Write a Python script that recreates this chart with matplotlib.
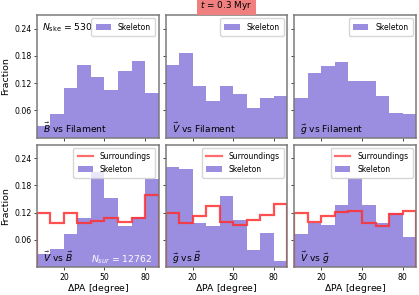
import numpy as np
import matplotlib
matplotlib.use("Agg")
import matplotlib.pyplot as plt

edges = np.arange(0, 100, 10)

# skeleton fractions (top row: field vs filament)
ske_B_fil = [0.025, 0.051, 0.109, 0.160, 0.133, 0.104, 0.147, 0.168, 0.098]
ske_V_fil = [0.159, 0.186, 0.113, 0.081, 0.113, 0.097, 0.066, 0.087, 0.092]
ske_g_fil = [0.087, 0.142, 0.158, 0.166, 0.124, 0.124, 0.092, 0.053, 0.051]

# bottom row: field vs field, skeleton and surroundings
ske_V_B = [0.029, 0.040, 0.072, 0.109, 0.210, 0.153, 0.090, 0.110, 0.193]
sur_V_B = [0.119, 0.096, 0.118, 0.096, 0.101, 0.108, 0.099, 0.109, 0.159]
ske_g_B = [0.220, 0.216, 0.096, 0.090, 0.157, 0.103, 0.038, 0.076, 0.014]
sur_g_B = [0.118, 0.096, 0.112, 0.134, 0.099, 0.093, 0.104, 0.114, 0.138]
ske_V_g = [0.073, 0.096, 0.093, 0.136, 0.196, 0.136, 0.096, 0.118, 0.066]
sur_V_g = [0.119, 0.099, 0.112, 0.121, 0.123, 0.097, 0.090, 0.116, 0.123]

top_labels = [r"$\vec{B}$ vs Filament", r"$\vec{V}$ vs Filament", r"$\vec{g}$ vs Filament"]
bot_labels = [r"$\vec{V}$ vs $\vec{B}$", r"$\vec{g}$ vs $\vec{B}$", r"$\vec{V}$ vs $\vec{g}$"]
n_ske = 530
n_sur = 12762

purple = '#9b8ee0'
red = '#ff3030'

fig, axes = plt.subplots(2, 3, figsize=(4.19, 2.95), dpi=100, sharex=True, sharey=True)
fig.subplots_adjust(left=0.088, right=0.993, top=0.949, bottom=0.095, wspace=0.058, hspace=0.057)

top = [ske_B_fil, ske_V_fil, ske_g_fil]
bot = [(ske_V_B, sur_V_B), (ske_g_B, sur_g_B), (ske_V_g, sur_V_g)]

leg_kw = dict(loc='upper right', fontsize=5.5, handlelength=2.0, borderpad=0.55,
              labelspacing=0.45, handletextpad=0.9, borderaxespad=0.45)

for i in range(3):
    ax = axes[0, i]
    ax.stairs(top[i], edges, fill=True, color=purple, label='Skeleton')
    ax.text(0.05, 0.04, top_labels[i], transform=ax.transAxes, fontsize=6.6)
    ax.legend(**leg_kw)

    ax = axes[1, i]
    ske, sur = bot[i]
    p = ax.stairs(ske, edges, fill=True, color=purple)
    ax.stairs(sur, edges, baseline=0, color=red, lw=1.6, alpha=0.85)
    ax.text(0.05, 0.04, bot_labels[i], transform=ax.transAxes, fontsize=6.6)
    ax.legend([plt.Line2D([], [], color=red, lw=1.6, alpha=0.7), p],
              ['Surroundings', 'Skeleton'], **leg_kw)

axes[0, 0].text(0.04, 0.87, r"$N_{\rm ske}$ = %d" % n_ske, transform=axes[0, 0].transAxes,
                fontsize=6.7)
axes[1, 0].text(0.95, 0.04, r"$N_{sur}$ = %d" % n_sur, transform=axes[1, 0].transAxes,
                fontsize=6.7, color='white', ha='right')

for ax in axes.flat:
    ax.set_xlim(0, 90)
    ax.set_ylim(0, 0.27)
    ax.set_xticks([20, 50, 80])
    ax.set_yticks([0.06, 0.12, 0.18, 0.24])
    ax.tick_params(labelsize=5.6, length=2.5, width=0.7, pad=1.5, color='#444444')
    for s in ax.spines.values():
        s.set_color('#7a7a7a')
        s.set_linewidth(1.1)

for ax in axes[1]:
    ax.set_xlabel(r"$\Delta$PA [degree]", fontsize=6.7, labelpad=0.5)
for ax in axes[:, 0]:
    ax.set_ylabel("Fraction", fontsize=6.8, labelpad=3)

fig.text(0.54, 0.982, r"$t$ = 0.3 Myr", ha='center', va='center', fontsize=6.4,
         bbox=dict(facecolor='#f08080', edgecolor='none', pad=2.5))

fig.savefig("out.png", dpi=100)
